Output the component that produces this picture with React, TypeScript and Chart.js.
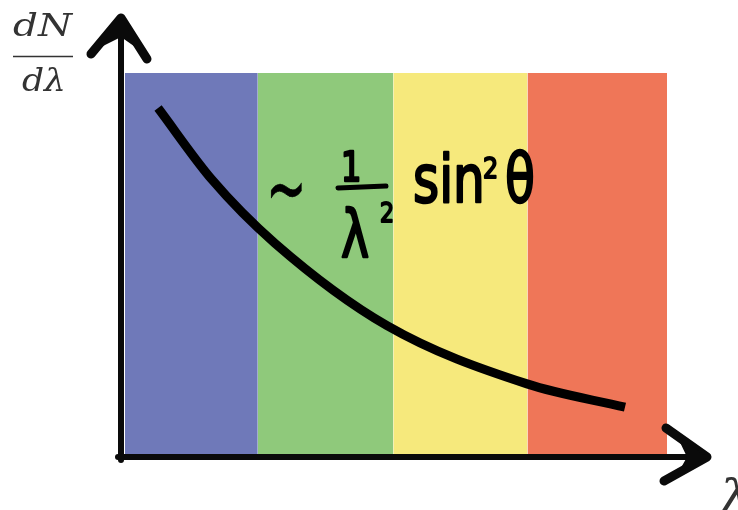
import React, { useEffect, useRef } from "react";
import { Chart, registerables } from "chart.js";

Chart.register(...registerables);

// Spectral bands (wavelength ranges in arbitrary units)
const bandEdges = [0, 0.98, 1.98, 2.97, 4];
const bandColors = ["#6f79b9", "#8fc97b", "#f6e97c", "#ef7658"];

// dN/dλ curve (~ 1/λ²)
const curveX = [0.244, 0.642, 1.107, 1.934, 2.967, 3.69];
const curveY = [0.908, 0.72, 0.553, 0.337, 0.184, 0.123];

const xMin = 0;
const xMax = 4;
const yMin = 0;
const yMax = 1;

const decorPlugin = {
  id: "decor",
  afterDraw(chart: any) {
    const { ctx, chartArea } = chart;
    const L = chartArea.left;
    const R = chartArea.right;
    const T = chartArea.top;
    const B = chartArea.bottom;
    ctx.save();
    ctx.strokeStyle = "#0a0a0a";
    ctx.fillStyle = "#0a0a0a";
    ctx.lineCap = "round";
    ctx.lineJoin = "round";

    // Y axis
    const ax = L - 4;
    const ay = B + 3;
    ctx.lineWidth = 6;
    ctx.beginPath();
    ctx.moveTo(ax, B + 6);
    ctx.lineTo(ax, T - 45);
    ctx.stroke();
    // Y arrow head
    const tipY = T - 55;
    ctx.lineWidth = 9;
    ctx.beginPath();
    ctx.moveTo(ax - 30, T - 19);
    ctx.lineTo(ax, tipY);
    ctx.lineTo(ax + 26, T - 14);
    ctx.stroke();
    ctx.beginPath();
    ctx.moveTo(ax, tipY);
    ctx.lineTo(ax - 22, T - 25);
    ctx.lineTo(ax, T - 36);
    ctx.lineTo(ax + 20, T - 22);
    ctx.closePath();
    ctx.fill();

    // X axis
    ctx.lineWidth = 6;
    ctx.beginPath();
    ctx.moveTo(L - 7, ay);
    ctx.lineTo(R + 33, ay);
    ctx.stroke();
    const tipX = R + 40;
    ctx.lineWidth = 9;
    ctx.beginPath();
    ctx.moveTo(R - 1, ay - 29);
    ctx.lineTo(tipX, ay);
    ctx.lineTo(R - 3, ay + 24);
    ctx.stroke();
    ctx.beginPath();
    ctx.moveTo(tipX, ay);
    ctx.lineTo(R + 10, ay - 21);
    ctx.lineTo(R + 20, ay);
    ctx.lineTo(R + 10, ay + 18);
    ctx.closePath();
    ctx.fill();

    // Axis labels: dN / dλ
    ctx.fillStyle = "#333333";
    ctx.strokeStyle = "#333333";
    const drawFit = (text: string, x: number, y: number, w: number, font: string) => {
      ctx.font = font;
      const m = ctx.measureText(text).width;
      ctx.save();
      ctx.translate(x, y);
      ctx.scale(w / m, 1);
      ctx.textAlign = "left";
      ctx.textBaseline = "alphabetic";
      ctx.fillText(text, 0, 0);
      ctx.restore();
    };
    drawFit("dN", 13, 36, 59, "italic 31px 'DejaVu Serif'");
    ctx.lineWidth = 1.6;
    ctx.lineCap = "butt";
    ctx.beginPath();
    ctx.moveTo(13, 56.5);
    ctx.lineTo(73, 56.5);
    ctx.stroke();
    drawFit("dλ", 22, 91, 44, "italic 31px 'DejaVu Serif'");

    // λ label at x-axis end
    ctx.font = "italic 50px 'DejaVu Serif'";
    ctx.textAlign = "left";
    ctx.textBaseline = "alphabetic";
    ctx.fillText("λ", R + 52, B + 61);

    // Annotation ~ 1/λ² sin²θ
    ctx.fillStyle = "#000000";
    ctx.strokeStyle = "#000000";
    const hand = (text: string, x: number, y: number, size: number, sx: number, sy: number, lw: number) => {
      ctx.save();
      ctx.translate(x, y);
      ctx.scale(sx, sy);
      ctx.font = `${size}px 'DejaVu Sans'`;
      ctx.textAlign = "left";
      ctx.textBaseline = "alphabetic";
      ctx.lineWidth = lw;
      ctx.lineJoin = "round";
      ctx.fillText(text, 0, 0);
      if (lw > 0) ctx.strokeText(text, 0, 0);
      ctx.restore();
    };
    hand("~", 266, 218, 62, 0.78, 1.4, 0.5);
    hand("1", 341, 181, 40, 0.8, 1, 2.5);
    ctx.lineWidth = 5;
    ctx.lineCap = "round";
    ctx.beginPath();
    ctx.moveTo(338, 188);
    ctx.lineTo(386, 186);
    ctx.stroke();
    hand("λ", 341, 257, 66, 0.72, 1, 2.5);
    hand("2", 380, 222, 26, 0.85, 1, 2);
    hand("sin", 413, 202, 66, 0.76, 1, 2.5);
    hand("2", 483, 178, 28, 0.85, 1, 2);
    hand("θ", 505, 202, 68, 0.72, 1, 2.5);

    ctx.restore();
  },
};

export default function App() {
  const canvasRef = useRef<HTMLCanvasElement | null>(null);

  useEffect(() => {
    if (!canvasRef.current) return;
    const bandDatasets = bandColors.map((c, i) => ({
      type: "line" as const,
      label: `band${i}`,
      data: [
        { x: bandEdges[i], y: yMax },
        { x: bandEdges[i + 1], y: yMax },
      ],
      backgroundColor: c,
      borderColor: c,
      borderWidth: 0,
      pointRadius: 0,
      fill: "origin",
      tension: 0,
      order: 1,
    }));
    const chart = new Chart(canvasRef.current, {
      type: "line",
      data: {
        datasets: [
          {
            label: "dN/dλ",
            data: curveX.map((x, i) => ({ x, y: curveY[i] })),
            borderColor: "#000000",
            borderWidth: 9,
            borderCapStyle: "butt",
            pointRadius: 0,
            fill: false,
            tension: 0.4,
            cubicInterpolationMode: "monotone",
            order: 0,
          },
          ...bandDatasets,
        ] as any,
      },
      options: {
        animation: false,
        responsive: false,
        maintainAspectRatio: false,
        layout: { padding: { left: 125, right: 71, top: 73, bottom: 56 } },
        plugins: {
          legend: { display: false },
          tooltip: { enabled: false },
          title: { display: false },
        },
        scales: {
          x: { type: "linear", min: xMin, max: xMax, display: false },
          y: { type: "linear", min: yMin, max: yMax, display: false },
        },
      },
      plugins: [decorPlugin],
    });
    return () => chart.destroy();
  }, []);

  return (
    <div style={{ position: "absolute", left: 0, top: 0, width: 738, height: 510, background: "#ffffff" }}>
      <canvas ref={canvasRef} width={738} height={510} style={{ display: "block" }} />
    </div>
  );
}
